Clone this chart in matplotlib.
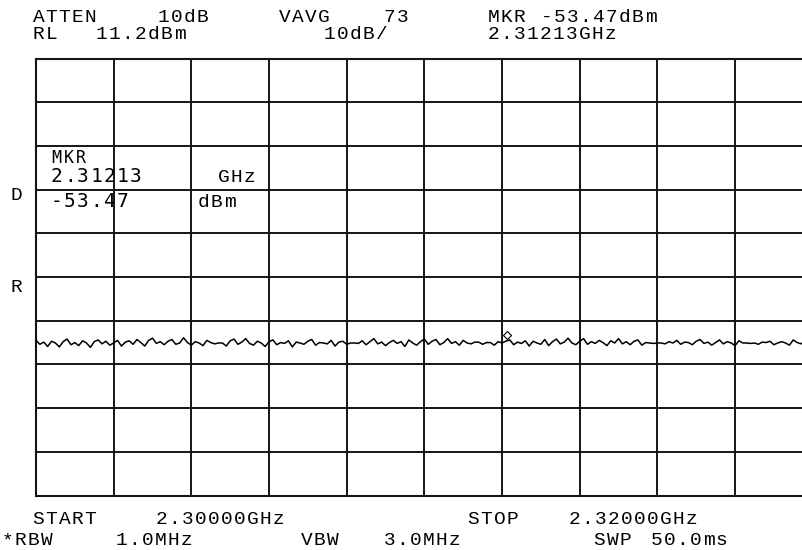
import numpy as np
import matplotlib
matplotlib.use("Agg")
import matplotlib.pyplot as plt
import matplotlib.transforms as mtransforms

# ---------------- data ----------------
start_ghz = 2.30000
stop_ghz = 2.32000
ref_level_dbm = 11.2
db_per_div = 10
n_div_x = 10
n_div_y = 10
marker_freq_ghz = 2.31213
marker_level_dbm = -53.47

trace_dbm = [
    -53.3, -54.2, -53.7, -54.7, -53.5, -53.9, -54.8, -53.6, -53.0, -54.3,
    -53.8, -54.5, -53.4, -53.9, -54.9, -53.6, -53.2, -54.1, -53.5, -54.4,
    -53.9, -53.3, -54.6, -53.7, -53.4, -54.2, -53.1, -53.8, -54.6, -53.3,
    -52.8, -54.0, -53.6, -54.3, -53.5, -53.1, -54.2, -53.9, -52.7, -53.8,
    -54.4, -53.6, -53.9, -54.5, -53.3, -53.8, -54.1, -53.9, -53.9, -54.6,
    -53.4, -53.0, -54.2, -53.7, -52.9, -54.0, -54.4, -53.5, -53.9, -54.7,
    -53.6, -53.2, -54.3, -53.8, -54.0, -53.4, -54.8, -53.7, -53.9, -54.2,
    -53.5, -53.1, -54.4, -53.8, -53.9, -54.1, -53.3, -54.6, -53.7, -53.5,
    -54.2, -53.9, -53.9, -54.0, -53.4, -54.3, -53.6, -52.9, -54.1, -53.7,
    -54.5, -53.8, -53.3, -54.0, -53.6, -54.7, -53.2, -53.9, -54.4, -53.6,
    -53.0, -54.2, -53.5, -53.1, -54.3, -53.8, -52.9, -54.0, -53.6, -54.4,
    -53.3, -53.9, -54.1, -53.7, -53.7, -54.2, -53.8, -53.8, -54.4, -53.6,
    -53.9, -53.47, -53.2, -54.3, -53.7, -54.0, -53.4, -54.6, -53.5, -53.9,
    -54.2, -53.1, -54.5, -53.6, -53.0, -54.1, -53.7, -52.8, -53.9, -54.3,
    -53.5, -52.9, -54.2, -53.6, -54.0, -53.3, -53.8, -54.5, -53.4, -53.9,
    -52.9, -54.1, -53.6, -54.3, -53.5, -53.2, -54.4, -53.8, -53.9, -54.0,
    -53.9, -53.9, -54.1, -53.6, -53.9, -53.3, -54.2, -53.7, -53.8, -54.3,
    -53.5, -53.1, -54.0, -53.7, -54.4, -53.8, -53.2, -54.1, -53.6, -53.9,
    -54.5, -53.4, -53.9, -53.9, -54.0, -53.9, -54.2, -53.7, -53.8, -53.5,
    -54.3, -53.9, -53.6, -53.9, -54.4, -53.2, -53.8, -54.1, -53.5, -53.9,
    -53.7,
]

header_line1 = [("ATTEN", 32), ("10dB", 157), ("VAVG", 278), ("73", 383),
                ("MKR", 487), ("-53.47dBm", 540)]
header_line2 = [("RL", 32), ("11.2dBm", 95), ("10dB/", 323), ("2.31213GHz", 487)]
footer_line1 = [("START", 32), ("2.30000GHz", 155), ("STOP", 467), ("2.32000GHz", 568)]
footer_line2 = [("*RBW", 1), ("1.0MHz", 115), ("VBW", 300), ("3.0MHz", 383),
                ("SWP", 593), ("50.0ms", 650)]

# ---------------- figure ----------------
W, H = 802, 550
fig = plt.figure(figsize=(W / 100, H / 100), dpi=100)
fig.patch.set_facecolor("white")

left_px, right_px, top_px, bottom_px = 36, 812.7, 58.5, 495.5
ax = fig.add_axes([left_px / W, 1 - bottom_px / H,
                   (right_px - left_px) / W, (bottom_px - top_px) / H])

bottom_dbm = ref_level_dbm - db_per_div * n_div_y
ax.set_xlim(start_ghz, stop_ghz)
ax.set_ylim(bottom_dbm, ref_level_dbm)
ax.set_xticks(np.linspace(start_ghz, stop_ghz, n_div_x + 1))
ax.set_yticks(np.linspace(bottom_dbm, ref_level_dbm, n_div_y + 1))
ax.tick_params(length=0, labelbottom=False, labelleft=False)
ax.grid(True, color="#151515", linewidth=1.4)
for s in ax.spines.values():
    s.set_color("#151515")
    s.set_linewidth(1.5)
ax.set_facecolor("white")

freqs = np.linspace(start_ghz, stop_ghz, len(trace_dbm))
ax.plot(freqs, trace_dbm, color="black", linewidth=1.1, zorder=3)

# marker diamond (drawn slightly above trace point, as on the instrument)
off = mtransforms.offset_copy(ax.transData, fig=fig, x=0, y=6, units="dots")
ax.plot([marker_freq_ghz], [marker_level_dbm], marker="D", markersize=4.5,
        markerfacecolor="white", markeredgecolor="black", markeredgewidth=0.8,
        transform=off, zorder=4, clip_on=False)

# ---------------- text (fixed character cells, like the instrument) ----------------
mono = "Liberation Mono"
sans_mono = "DejaVu Sans Mono"


def put(items, y_px, family=mono, size=14, cell=13.0):
    for txt, x_px in items:
        for i, ch in enumerate(txt):
            if ch == " ":
                continue
            fig.text((x_px + cell * i + cell / 2) / W, 1 - y_px / H, ch,
                     family=family, fontsize=size, ha="center", va="baseline",
                     color="black")


put(header_line1, 22)
put(header_line2, 39)
put(footer_line1, 524)
put(footer_line2, 545)

# on-screen marker readout and side letters
put([("MKR", 50)], 163, family=sans_mono, size=12, cell=12.5)
put([("2.31213", 50)], 182, family=sans_mono, size=14, cell=13.2)
put([("GHz", 217)], 182)
put([("-53.47", 50)], 207, family=sans_mono, size=14, cell=13.2)
put([("dBm", 197)], 207)
put([("D", 10)], 200)
put([("R", 10)], 292)

fig.savefig("out.png", dpi=100, facecolor="white")
